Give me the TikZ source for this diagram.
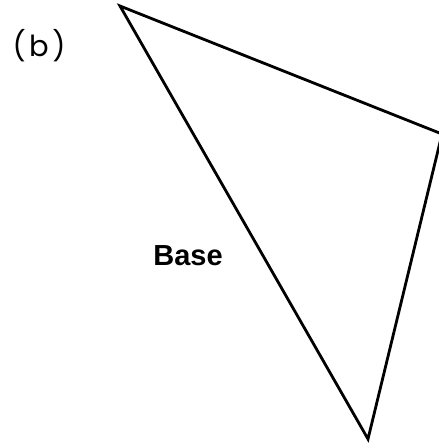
\documentclass[tikz,border=0pt]{standalone}
\usepackage{fontspec}
\newfontfamily\labfont[LetterSpace=12]{Poppins}
\newfontfamily\basefont{Liberation Sans}
\begin{document}
\begin{tikzpicture}[x=1pt,y=-1pt,
  edge/.style={line width=2.8pt,line join=miter},
  lab/.style={inner sep=0pt,anchor=center}]
\useasboundingbox (0,0) rectangle (439,445);
\coordinate (A) at (120,6);
\coordinate (B) at (442,134);
\coordinate (C) at (368,439);
\draw[edge] (A) -- (B) -- (C) -- cycle;
\node[lab] (lb) at (39,46) {\labfont\fontsize{29}{34}\selectfont (b)};
\node[lab] (base) at (188,256) {\basefont\bfseries\fontsize{29}{34}\selectfont Base};
\end{tikzpicture}
\end{document}
